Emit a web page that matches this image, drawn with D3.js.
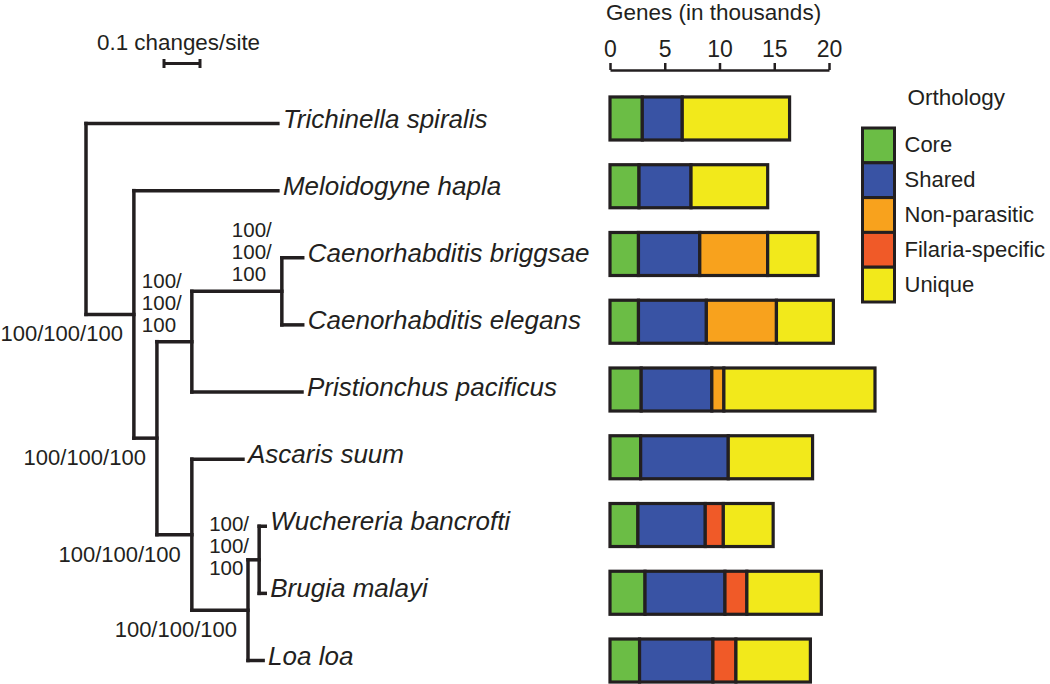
<!DOCTYPE html>
<html>
<head>
<meta charset="utf-8">
<script src="https://cdn.jsdelivr.net/npm/d3@7"></script>
<style>
  body { margin: 0; background: #fff; }
  svg text { font-family: "Liberation Sans", Arial, Helvetica, sans-serif; fill: #231f20; }
</style>
</head>
<body>
<div id="chart-area"></div>
<script>
// species, top to bottom
var taxa = ["Trichinella spiralis", "Meloidogyne hapla", "Caenorhabditis briggsae",
    "Caenorhabditis elegans", "Pristionchus pacificus", "Ascaris suum",
    "Wuchereria bancrofti", "Brugia malayi", "Loa loa"];

// gene counts, thousands
var core            = [2.95, 2.65, 2.6, 2.6, 2.85, 2.8, 2.55, 3.2, 2.7];
var shared          = [3.65, 4.75, 5.6, 6.2, 6.45, 8.0, 6.15, 7.3, 6.7];
var nonParasitic    = [0, 0, 6.2, 6.4, 1.1, 0, 0, 0, 0];
var filariaSpecific = [0, 0, 0, 0, 0, 0, 1.65, 2.0, 2.1];
var unique          = [9.8, 7.0, 4.6, 5.2, 13.8, 7.7, 4.55, 6.8, 6.8];

var categories = ["Core", "Shared", "Non-parasitic", "Filaria-specific", "Unique"];
var geneTicks = [0, 5, 10, 15, 20];

// tree: node, parent, branch length (changes/site)
var treeNodes   = ["root", "Trichinella spiralis", "n2", "Meloidogyne hapla", "n3", "n4", "n5",
    "Caenorhabditis briggsae", "Caenorhabditis elegans", "Pristionchus pacificus", "n6",
    "Ascaris suum", "n7", "n8", "Wuchereria bancrofti", "Brugia malayi", "Loa loa"];
var treeParents = ["", "root", "root", "n2", "n2", "n3", "n4",
    "n5", "n5", "n4", "n3",
    "n6", "n6", "n7", "n8", "n8", "n7"];
var branchLengths = [0, 0.533, 0.133, 0.4, 0.064, 0.097, 0.25,
    0.058, 0.058, 0.306, 0.097,
    0.142, 0.156, 0.031, 0.017, 0.017, 0.042];

// bootstrap support
var supportNodes  = ["n2", "n3", "n4", "n5", "n6", "n7", "n8"];
var supportValues = ["100/100/100", "100/100/100", "100/100/100", "100/100/100",
    "100/100/100", "100/100/100", "100/100/100"];
var stackedSupport = ["n4", "n5", "n8"];

var scaleBarLength = 0.1;

var width = 1050, height = 684;
var ink = "#231f20";
var colors = d3.scaleOrdinal()
    .domain(categories)
    .range(["#6bbd45", "#3953a4", "#f8a21d", "#f05a28", "#f2e91b"]);

var svg = d3.select("#chart-area")
    .append("svg")
        .attr("width", width)
        .attr("height", height);

/* ---------- tree ---------- */
var treeX = d3.scaleLinear().domain([0, 1]).range([86, 446]);
var leafY = d3.scalePoint().domain(taxa).range([123.5, 660.5]);

var table = treeNodes.map(function(d, i){
    return {id: d, parent: treeParents[i] || null, len: branchLengths[i]};
});
var root = d3.stratify()
    .id(function(d){ return d.id; })
    .parentId(function(d){ return d.parent; })(table);

root.eachBefore(function(n){
    n.dist = (n.parent ? n.parent.dist : 0) + n.data.len;
    n.px = treeX(n.dist);
});
root.eachAfter(function(n){
    if (n.children) {
        n.py = d3.mean(n.children, function(c){ return c.py; });
    } else {
        n.py = leafY(n.id);
    }
});

var tree = svg.append("g")
    .attr("fill", "none")
    .attr("stroke", ink)
    .attr("stroke-width", 3.5)
    .attr("stroke-linecap", "square");

tree.selectAll("path.branch")
    .data(root.descendants().filter(function(d){ return d.parent; }))
    .enter()
    .append("path")
        .attr("class", "branch")
        .attr("d", function(d){
            return "M" + d.parent.px + "," + d.py + "H" + d.px;
        });

tree.selectAll("path.stem")
    .data(root.descendants().filter(function(d){ return d.children; }))
    .enter()
    .append("path")
        .attr("class", "stem")
        .attr("d", function(d){
            var ys = d.children.map(function(c){ return c.py; });
            return "M" + d.px + "," + d3.min(ys) + "V" + d3.max(ys);
        });

svg.selectAll("text.taxon")
    .data(root.leaves())
    .enter()
    .append("text")
        .attr("class", "taxon")
        .attr("x", function(d){ return d.px + 5; })
        .attr("y", function(d){ return d.py + 4; })
        .attr("font-size", "26px")
        .attr("font-style", "italic")
        .text(function(d){ return d.id; });

// support values
supportNodes.forEach(function(id, i){
    var n = root.find(function(d){ return d.id === id; });
    if (stackedSupport.indexOf(id) >= 0) {
        var parts = supportValues[i].split("/");
        var first = n.py - 54;
        // short branches: centre the stack on the node instead
        if (n.px - n.parent.px < 20) first = n.py - 29;
        var t = svg.append("text")
            .attr("font-size", "20.5px");
        parts.forEach(function(p, j){
            t.append("tspan")
                .attr("x", n.px - 50)
                .attr("y", first + j * 22)
                .text(j < parts.length - 1 ? p + "/" : p);
        });
    } else {
        svg.append("text")
            .attr("x", n.px - 11)
            .attr("y", n.py + 27)
            .attr("font-size", "22px")
            .attr("text-anchor", "end")
            .text(supportValues[i]);
    }
});

// scale bar
var sb = svg.append("g").attr("stroke", ink).attr("stroke-width", 3);
sb.append("line")
    .attr("x1", treeX(0) + 78).attr("x2", treeX(scaleBarLength) + 78)
    .attr("y1", 63.5).attr("y2", 63.5);
[0, scaleBarLength].forEach(function(v){
    sb.append("line")
        .attr("x1", treeX(v) + 78).attr("x2", treeX(v) + 78)
        .attr("y1", 59).attr("y2", 68);
});
svg.append("text")
    .attr("x", 97)
    .attr("y", 50)
    .attr("font-size", "22.4px")
    .text(scaleBarLength + " changes/site");

/* ---------- bars ---------- */
var x = d3.scaleLinear().domain([0, 20]).range([610, 829]);
var y = d3.scaleBand()
    .domain(taxa)
    .range([84.6, 694.4])
    .paddingInner(0.365)
    .paddingOuter(0.1825);

var rows = taxa.map(function(t, i){
    return {taxon: t, "Core": core[i], "Shared": shared[i], "Non-parasitic": nonParasitic[i],
        "Filaria-specific": filariaSpecific[i], "Unique": unique[i]};
});
var stacked = d3.stack().keys(categories)(rows);

var layers = svg.append("g")
    .selectAll("g")
    .data(stacked)
    .enter()
    .append("g")
        .attr("fill", function(d){ return colors(d.key); });

layers.selectAll("rect")
    .data(function(d){ return d.filter(function(s){ return s[1] > s[0]; }); })
    .enter()
    .append("rect")
        .attr("x", function(d){ return x(d[0]); })
        .attr("y", function(d){ return y(d.data.taxon); })
        .attr("width", function(d){ return x(d[1]) - x(d[0]); })
        .attr("height", y.bandwidth())
        .attr("stroke", ink)
        .attr("stroke-width", 3.2);

var xAxisGroup = svg.append("g")
    .attr("transform", "translate(0,70)")
    .call(d3.axisTop(x).tickValues(geneTicks).tickSize(7).tickSizeOuter(0).tickPadding(6));
xAxisGroup.select(".domain").attr("stroke", ink).attr("stroke-width", 2.5);
xAxisGroup.selectAll(".tick line").attr("stroke", ink).attr("stroke-width", 2.5);
xAxisGroup.selectAll(".tick text")
    .attr("font-size", "23px")
    .attr("font-family", "Liberation Sans, Arial, sans-serif")
    .attr("fill", ink);

svg.append("text")
    .attr("x", 606)
    .attr("y", 20)
    .attr("font-size", "22.5px")
    .text("Genes (in thousands)");

/* ---------- legend ---------- */
var legend = svg.append("g").attr("transform", "translate(862.5,128)");
legend.append("text")
    .attr("x", 45)
    .attr("y", -23)
    .attr("font-size", "22.5px")
    .text("Orthology");
var cell = 34.8;
var items = legend.selectAll("g.item")
    .data(categories)
    .enter()
    .append("g")
        .attr("class", "item")
        .attr("transform", function(d, i){ return "translate(0," + i * cell + ")"; });
items.append("rect")
    .attr("width", 32)
    .attr("height", cell)
    .attr("fill", function(d){ return colors(d); })
    .attr("stroke", ink)
    .attr("stroke-width", 3);
items.append("text")
    .attr("x", 42)
    .attr("y", cell / 2 + 7)
    .attr("font-size", "22px")
    .text(function(d){ return d; });
</script>
</body>
</html>
